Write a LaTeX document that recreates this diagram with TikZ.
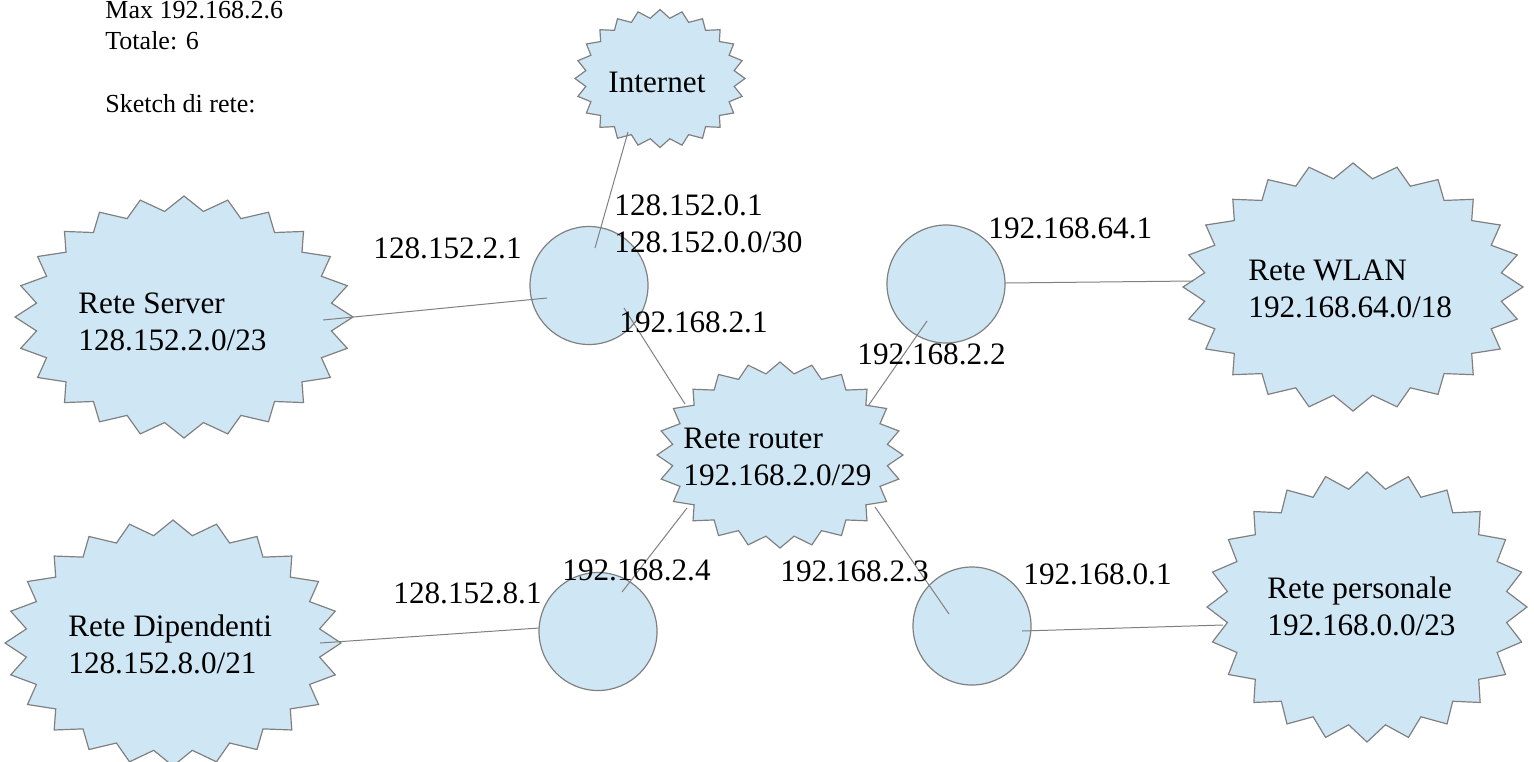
\documentclass[tikz,border=0pt]{standalone}
\usepackage{fontspec}
\setmainfont{Liberation Serif}
\definecolor{netfill}{HTML}{CFE7F5}
\definecolor{netline}{HTML}{808080}
\tikzset{
  starshape/.style={fill=netfill, draw=netline, line width=0.6pt, line join=miter},
  hub/.style={circle, fill=netfill, draw=netline, line width=0.6pt, minimum size=59pt, inner sep=0pt},
  link/.style={draw=netline, line width=0.5pt},
  biglbl/.style={font=\fontsize{15.6}{18.25}\selectfont, inner sep=0pt, anchor=base west, align=left},
  smalllbl/.style={font=\fontsize{13}{15.5}\selectfont, inner sep=0pt, anchor=base west, align=left},
}
% star polygon: center x, center y, rx, ry
\newcommand\netstarpoly[4]{%
  \draw[starshape, shift={(#1,#2)}] plot[domain=0:47, samples=48, variable=\k]
    ({#3*(0.94+0.06*cos(180*\k))*cos(7.5*\k)}, {#4*(0.94+0.06*cos(180*\k))*sin(7.5*\k)}) -- cycle;%
}
\begin{document}
\begin{tikzpicture}[x=0.5pt, y=-0.5pt]
\useasboundingbox (0,0) rectangle (1534,761);

% star shapes
\netstarpoly{660}{78.5}{85}{69}
\netstarpoly{184}{317}{169}{121}
\netstarpoly{1353}{287}{170}{124}
\netstarpoly{780}{455}{123}{93}
\netstarpoly{173}{643}{168}{123}
\netstarpoly{1367}{607}{160}{135}

% hub circles
\node[hub] (hubA) at (589,285.5) {};
\node[hub] (hubB) at (946,284) {};
\node[hub] (hubC) at (598,631.5) {};
\node[hub] (hubD) at (972,626) {};

% connector end points
\coordinate (inetP) at (628,132);
\coordinate (hubAtop) at (595,248);
\coordinate (srvP) at (323,320);
\coordinate (hubAleft) at (547,298);
\coordinate (hubAlow) at (624,308);
\coordinate (rtrA) at (685,404);
\coordinate (rtrB) at (868,406);
\coordinate (hubBlow) at (927,321);
\coordinate (hubBright) at (1005,283);
\coordinate (wlanP) at (1193,281);
\coordinate (rtrC) at (687,508);
\coordinate (hubCin) at (622,592);
\coordinate (dipP) at (320,643);
\coordinate (hubCleft) at (539,628);
\coordinate (rtrD) at (875,507);
\coordinate (hubDin) at (949,614);
\coordinate (hubDright) at (1022,631);
\coordinate (persP) at (1223,625);

% connectors
\draw[link] (inetP) -- (hubAtop);
\draw[link] (srvP) -- (hubAleft);
\draw[link] (hubAlow) -- (rtrA);
\draw[link] (rtrB) -- (hubBlow);
\draw[link] (hubBright) -- (wlanP);
\draw[link] (rtrC) -- (hubCin);
\draw[link] (dipP) -- (hubCleft);
\draw[link] (rtrD) -- (hubDin);
\draw[link] (hubDright) -- (persP);

% network texts (anchor = baseline of last line)
\node[biglbl] (internet) at (608,92) {Internet};
\node[biglbl] (server) at (78,350) {Rete Server\\128.152.2.0/23};
\node[biglbl] (wlan) at (1248,317) {Rete WLAN\\192.168.64.0/18};
\node[biglbl] (router) at (683,485) {Rete router\\192.168.2.0/29};
\node[biglbl] (dip) at (68,673) {Rete Dipendenti\\128.152.8.0/21};
\node[biglbl] (pers) at (1267,635) {Rete personale\\192.168.0.0/23};

% address labels
\node[biglbl] (ipA) at (373,258) {128.152.2.1};
\node[biglbl] (ipB) at (614,252) {128.152.0.1\\128.152.0.0/30};
\node[biglbl] (ipC) at (619,332) {192.168.2.1};
\node[biglbl] (ipD) at (988,238) {192.168.64.1};
\node[biglbl] (ipE) at (857,364) {192.168.2.2};
\node[biglbl] (ipF) at (393,603) {128.152.8.1};
\node[biglbl] (ipG) at (562,580) {192.168.2.4};
\node[biglbl] (ipH) at (780,581) {192.168.2.3};
\node[biglbl] (ipI) at (1023,584) {192.168.0.1};

% header text
\node[smalllbl] (info) at (105,49) {Max 192.168.2.6\\Totale: 6};
\node[smalllbl] (sketch) at (105,112) {Sketch di rete:};
\end{tikzpicture}
\end{document}
